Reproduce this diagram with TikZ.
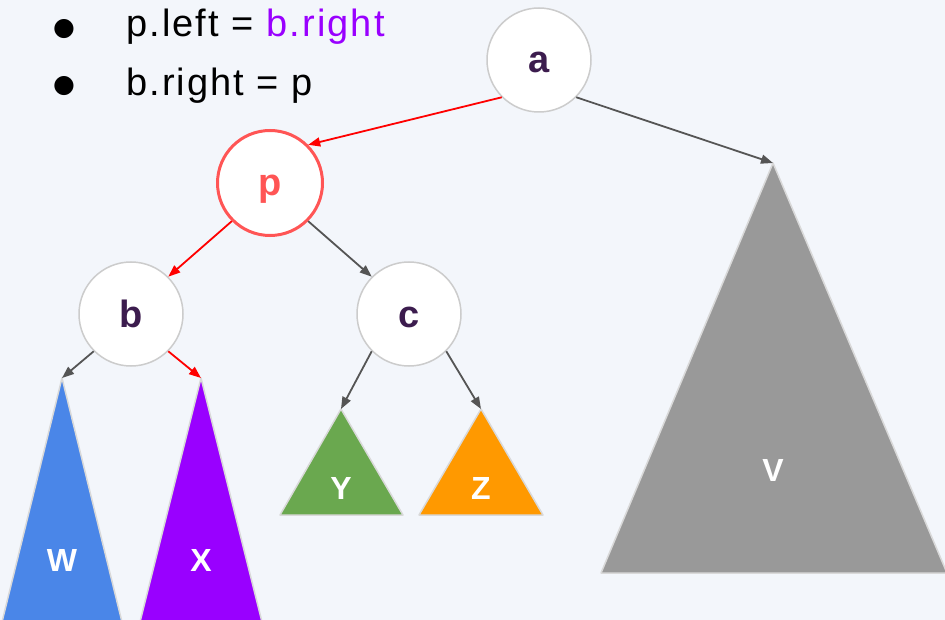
\documentclass[tikz,border=0pt]{standalone}
\usepackage{fontspec}
\setmainfont{Liberation Sans}
\newfontfamily\dotfont{DejaVu Sans}
\usetikzlibrary{arrows.meta}
\definecolor{PageBg}{RGB}{243,246,251}
\definecolor{RingGray}{RGB}{204,204,204}
\definecolor{EdgeGray}{RGB}{217,217,217}
\definecolor{PivotRed}{RGB}{255,85,85}
\definecolor{LinkRed}{RGB}{255,0,0}
\definecolor{LinkGray}{RGB}{85,85,85}
\definecolor{KeyInk}{RGB}{60,28,78}
\definecolor{SubBlue}{RGB}{74,134,232}
\definecolor{SubPurple}{RGB}{153,0,255}
\definecolor{SubGreen}{RGB}{106,168,79}
\definecolor{SubOrange}{RGB}{255,153,0}
\definecolor{SubGray}{RGB}{153,153,153}
\tikzset{
  key/.style={circle,draw=RingGray,fill=white,line width=1.5pt,minimum size=104pt,inner sep=0pt,
    text=KeyInk,text height=26pt,text depth=0pt,font=\fontsize{38}{44}\selectfont\bfseries},
  pivot/.style={key,draw=PivotRed,line width=3pt,minimum size=105pt,text=PivotRed},
  link/.style={draw=LinkGray,line width=1.8pt,-{Triangle[length=12pt,width=9pt]}},
  hot/.style={link,draw=LinkRed},
  sub/.style={draw=EdgeGray,line width=1.5pt,line join=round},
  sublabel/.style={text=white,font=\fontsize{32}{38}\selectfont\bfseries},
  note/.style={anchor=base west,inner sep=0pt,
    font=\fontsize{38}{44}\selectfont\addfontfeature{LetterSpace=5.5}},
  dot/.style={anchor=base,inner sep=0pt,font=\dotfont\fontsize{25}{30}\selectfont},
}

\begin{document}
\begin{tikzpicture}[x=1pt,y=-1pt]
\path[use as bounding box,fill=PageBg] (0,0) rectangle (945,620);
\coordinate (tW) at (62,378);
\coordinate (tX) at (201,378);
\coordinate (tY) at (341,409);
\coordinate (tZ) at (481,409);
\coordinate (tV) at (773,163);
\fill[SubBlue,sub] (tW)--(2,622)--(122,622)--cycle;
\fill[SubPurple,sub] (tX)--(140,622)--(262,622)--cycle;
\fill[SubGreen,sub] (tY)--(280,515)--(403,515)--cycle;
\fill[SubOrange,sub] (tZ)--(419,515)--(543,515)--cycle;
\fill[SubGray,sub] (tV)--(601,573)--(947,573)--cycle;
\node[sublabel] (lW) at (62,560) {W};
\node[sublabel] (lX) at (201,560) {X};
\node[sublabel] (lY) at (341,488) {Y};
\node[sublabel] (lZ) at (481,488) {Z};
\node[sublabel] (lV) at (773,470) {V};
\node[key] (a) at (539,60) {a};
\node[pivot] (p) at (270,183) {p};
\node[key] (b) at (131,314) {b};
\node[key] (c) at (409,314) {c};
\draw[hot] (a.225)--(p.45);
\draw[link] (a.315)--(tV);
\draw[hot] (p.225)--(b.45);
\draw[link] (p.315)--(c.135);
\draw[link] (b.225)--(tW);
\draw[hot] (b.315)--(tX);
\draw[link] (c.225)--(tY);
\draw[link] (c.315)--(tZ);
\node[dot] (d1) at (64,35.5) {●};
\node[dot] (d2) at (64,92.5) {●};
\node[note] (n1) at (126,37) {p.left = \textcolor{SubPurple}{b.right}};
\node[note] (n2) at (126,96) {b.right = p};
\end{tikzpicture}
\end{document}
